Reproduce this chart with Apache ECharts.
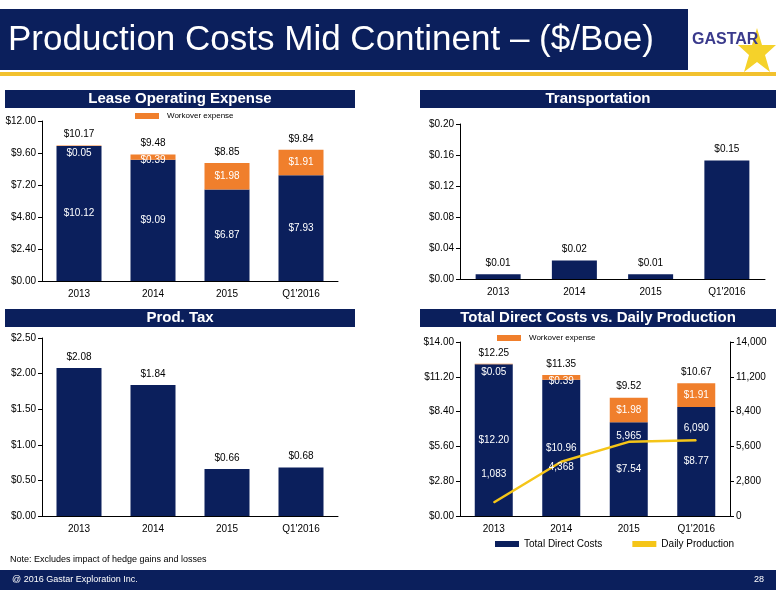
<!DOCTYPE html>
<html>
<head>
<meta charset="utf-8">
<script src="https://cdn.jsdelivr.net/npm/echarts@6/dist/echarts.min.js"></script>
<style>
  body { margin: 0; background: #fff; }
  #chart { width: 776px; height: 600px; }
</style>
</head>
<body>
<div id="chart"></div>
<script>
// data
const years = ['2013', '2014', '2015', "Q1'2016"];
const loeBase = [10.12, 9.09, 6.87, 7.93];
const loeWorkover = [0.05, 0.39, 1.98, 1.91];
const loeTotal = [10.17, 9.48, 8.85, 9.84];
const transport = [0.006, 0.024, 0.006, 0.153];
const prodTax = [2.08, 1.84, 0.66, 0.68];
const tdcBase = [12.20, 10.96, 7.54, 8.77];
const tdcWorkover = [0.05, 0.39, 1.98, 1.91];
const tdcTotal = [12.25, 11.35, 9.52, 10.67];
const dailyProd = [1083, 4368, 5965, 6090];

const NAVY = '#0b1f5c';
const ORANGE = '#f07f2c';
const YELLOW = '#f5c518';
const FONT = 'Liberation Sans';

const chart = echarts.init(document.getElementById('chart'));

const axisLine = { show: true, lineStyle: { color: '#000', width: 1 } };
const catAxis = (gi) => ({
    type: 'category', gridIndex: gi, data: years,
    axisLine: axisLine, axisTick: { show: false },
    axisLabel: { color: '#000', fontSize: 10, fontFamily: FONT, margin: 8 }
});
const valAxis = (gi, max, interval, fmt, pos) => ({
    type: 'value', gridIndex: gi, min: 0, max: max, interval: interval, position: pos || 'left',
    axisLine: axisLine, axisTick: { show: true, length: 4, lineStyle: { color: '#000' } },
    splitLine: { show: false },
    axisLabel: { color: '#000', fontSize: 10, fontFamily: FONT, formatter: fmt, margin: 6 }
});
const dollars = (d) => (v) => '$' + v.toFixed(d);
const whiteLbl = { color: '#fff', fontSize: 10, fontFamily: FONT };
const blackLbl = { color: '#000', fontSize: 10, fontFamily: FONT };

// small workover labels sit just under the top of the bar
const workoverData = (arr) => arr.map(v => ({
    value: v,
    label: { show: true, position: v < 1 ? 'insideTop' : 'inside', offset: v < 1 ? [0, v < 0.1 ? -2 : -4] : [0, 0],
             formatter: '$' + v.toFixed(2), ...whiteLbl }
}));

// vertical label offsets for the production line (px, negative = above point)
const prodLabelDy = [-28, 6, -6, -12];

const banner = (x, y, w, text) => ([
    { type: 'rect', shape: { x: x, y: y, width: w, height: 18 }, style: { fill: NAVY } },
    { type: 'text', x: x + w / 2, y: y + 9, style: { text: text, fill: '#fff', font: 'bold 15px ' + FONT, align: 'center', verticalAlign: 'middle' } }
]);
const workoverKey = (x, y) => ([
    { type: 'rect', shape: { x: x, y: y, width: 24, height: 6 }, style: { fill: ORANGE } },
    { type: 'text', x: x + 32, y: y + 3, style: { text: 'Workover expense', fill: '#000', font: '8px ' + FONT, verticalAlign: 'middle' } }
]);

chart.setOption({
    animation: false,
    textStyle: { fontFamily: FONT },
    graphic: [
        { type: 'rect', shape: { x: 0, y: 9, width: 688, height: 61 }, style: { fill: NAVY } },
        { type: 'text', x: 8, y: 40, style: { text: 'Production Costs Mid Continent \u2013 ($/Boe)', fill: '#fff', font: '35px ' + FONT, verticalAlign: 'middle' } },
        { type: 'rect', shape: { x: 0, y: 72, width: 776, height: 4 }, style: { fill: '#f2c12e' } },
        { type: 'polygon', shape: { points: [[757, 28], [762, 45], [776, 45], [765, 55], [770, 72], [757, 62], [744, 72], [749, 55], [738, 45], [752, 45]] }, style: { fill: '#f5d22a' } },
        { type: 'text', x: 692, y: 40, style: { text: 'GASTAR', fill: '#3a3a8c', font: 'bold 16px ' + FONT, verticalAlign: 'middle' } },
        ...banner(5, 90, 350, 'Lease Operating Expense'),
        ...banner(420, 90, 356, 'Transportation'),
        ...banner(5, 309, 350, 'Prod. Tax'),
        ...banner(420, 309, 356, 'Total Direct Costs vs. Daily Production'),
        ...workoverKey(135, 113),
        ...workoverKey(497, 335),
        { type: 'text', x: 10, y: 560, style: { text: 'Note: Excludes impact of hedge gains and losses', fill: '#000', font: '9px ' + FONT, verticalAlign: 'middle' } },
        { type: 'rect', shape: { x: 0, y: 570, width: 776, height: 20 }, style: { fill: NAVY } },
        { type: 'text', x: 12, y: 580, style: { text: '@ 2016 Gastar Exploration Inc.', fill: '#fff', font: '9px ' + FONT, verticalAlign: 'middle' } },
        { type: 'text', x: 764, y: 580, style: { text: '28', fill: '#fff', font: '9px ' + FONT, align: 'right', verticalAlign: 'middle' } }
    ],
    legend: {
        bottom: 46, left: 490, itemGap: 30, itemWidth: 24, itemHeight: 6,
        textStyle: { fontSize: 10, fontFamily: FONT, color: '#000' },
        data: [
            { name: 'Total Direct Costs', icon: 'rect', itemStyle: { color: NAVY } },
            { name: 'Daily Production', icon: 'rect', itemStyle: { color: YELLOW } }
        ]
    },
    grid: [
        { left: 42, top: 121, width: 296, height: 160 },
        { left: 460, top: 124, width: 305, height: 155 },
        { left: 42, top: 338, width: 296, height: 178 },
        { left: 460, top: 342, width: 270, height: 174 }
    ],
    xAxis: [catAxis(0), catAxis(1), catAxis(2), catAxis(3)],
    yAxis: [
        valAxis(0, 12, 2.4, dollars(2)),
        valAxis(1, 0.2, 0.04, dollars(2)),
        valAxis(2, 2.5, 0.5, dollars(2)),
        valAxis(3, 14, 2.8, dollars(2)),
        { ...valAxis(3, 14000, 2800, (v) => v.toLocaleString('en-US'), 'right') }
    ],
    series: [
        { type: 'bar', xAxisIndex: 0, yAxisIndex: 0, stack: 'loe', barWidth: 45, data: loeBase,
          itemStyle: { color: NAVY }, label: { show: true, position: 'inside', formatter: (p) => '$' + p.value.toFixed(2), ...whiteLbl } },
        { type: 'bar', xAxisIndex: 0, yAxisIndex: 0, stack: 'loe', data: workoverData(loeWorkover), itemStyle: { color: ORANGE } },
        { type: 'bar', xAxisIndex: 0, yAxisIndex: 0, stack: 'loe', data: loeTotal.map(() => 0), itemStyle: { color: 'transparent' },
          label: { show: true, position: 'top', distance: 6, formatter: (p) => '$' + loeTotal[p.dataIndex].toFixed(2), ...blackLbl } },

        { type: 'bar', xAxisIndex: 1, yAxisIndex: 1, barWidth: 45, data: transport, itemStyle: { color: NAVY },
          label: { show: true, position: 'top', distance: 6, formatter: (p) => '$' + p.value.toFixed(2), ...blackLbl } },

        { type: 'bar', xAxisIndex: 2, yAxisIndex: 2, barWidth: 45, data: prodTax, itemStyle: { color: NAVY },
          label: { show: true, position: 'top', distance: 6, formatter: (p) => '$' + p.value.toFixed(2), ...blackLbl } },

        { name: 'Total Direct Costs', type: 'bar', xAxisIndex: 3, yAxisIndex: 3, stack: 'tdc', barWidth: 38, data: tdcBase,
          itemStyle: { color: NAVY }, label: { show: true, position: 'inside', formatter: (p) => '$' + p.value.toFixed(2), ...whiteLbl } },
        { type: 'bar', xAxisIndex: 3, yAxisIndex: 3, stack: 'tdc', data: workoverData(tdcWorkover), itemStyle: { color: ORANGE } },
        { type: 'bar', xAxisIndex: 3, yAxisIndex: 3, stack: 'tdc', data: tdcTotal.map(() => 0), itemStyle: { color: 'transparent' },
          label: { show: true, position: 'top', distance: 6, formatter: (p) => '$' + tdcTotal[p.dataIndex].toFixed(2), ...blackLbl } },
        { name: 'Daily Production', type: 'line', xAxisIndex: 3, yAxisIndex: 4,
          data: dailyProd.map((v, i) => ({ value: v, label: { offset: [0, prodLabelDy[i]] } })),
          symbol: 'circle', symbolSize: 1, showSymbol: true, z: 5,
          lineStyle: { color: YELLOW, width: 2.5 }, itemStyle: { color: YELLOW },
          label: { show: true, position: 'inside', formatter: (p) => p.value.toLocaleString('en-US'), ...whiteLbl } }
    ]
});
</script>
</body>
</html>
